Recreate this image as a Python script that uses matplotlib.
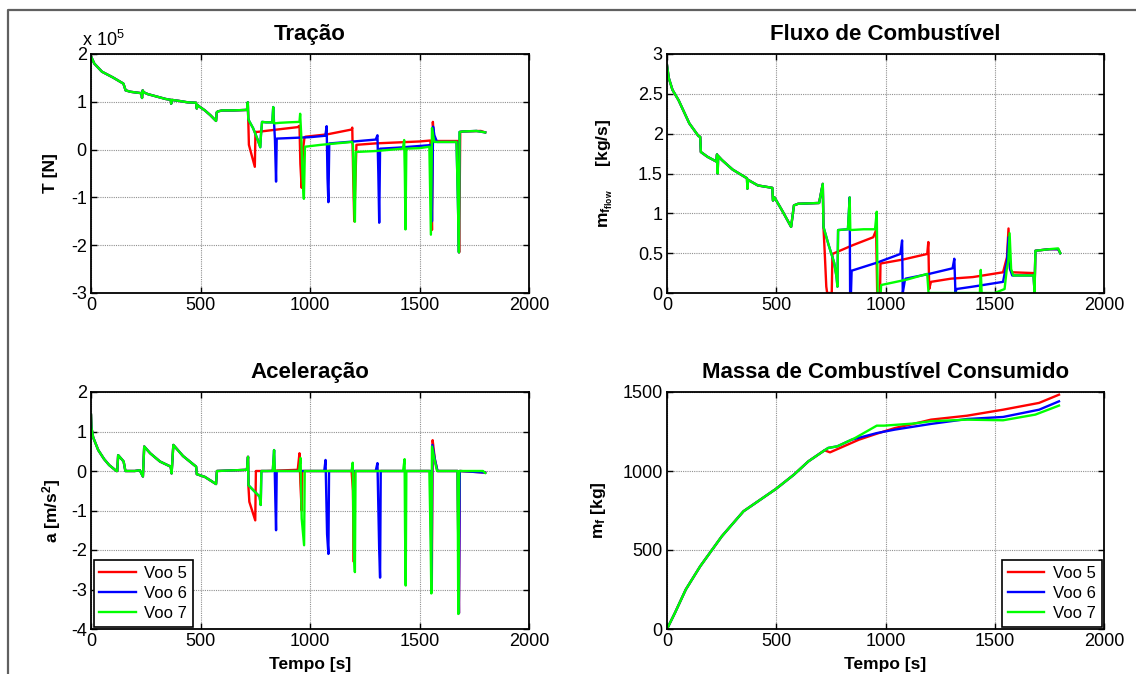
import matplotlib
matplotlib.use("Agg")
import matplotlib.pyplot as plt
from matplotlib.lines import Line2D
from matplotlib.ticker import FormatStrFormatter

# ---- data (time [s], value) ----
series_names = ["Voo 5", "Voo 6", "Voo 7"]
series_colors = ["#ff0000", "#0000ff", "#00ff00"]

# Thrust, in units of 1e5 N -- common part shared by all flights
thrust_common = [(0, 1.95), (15, 1.8), (50, 1.63), (100, 1.51), (148, 1.38), (158, 1.24),
                 (180, 1.21), (230, 1.18), (233, 1.08), (236, 1.24), (240, 1.2), (260, 1.16),
                 (300, 1.11), (340, 1.06), (364, 1.04), (366, 0.96), (369, 1.04), (400, 1.02),
                 (440, 0.99), (480, 0.98), (483, 0.86), (487, 0.93), (495, 0.9), (520, 0.82),
                 (545, 0.72), (571, 0.6), (574, 0.78), (580, 0.8), (600, 0.82), (650, 0.82),
                 (712, 0.83), (716, 0.99)]
thrust_v5 = [(718, 0.65), (721, 0.1), (748, -0.36), (751, 0.37), (760, 0.37), (850, 0.42),
             (944, 0.47), (952, 0.5), (956, -0.3), (962, -0.8), (968, 0.0), (975, 0.26),
             (980, 0.27), (1080, 0.32), (1190, 0.42), (1193, 0.46), (1197, -0.5), (1202, -1.5),
             (1212, 0.1), (1300, 0.13), (1400, 0.15), (1500, 0.17), (1550, 0.19), (1557, -1.68),
             (1561, 0.58), (1565, 0.3), (1570, 0.2), (1578, 0.18), (1600, 0.18), (1660, 0.18),
             (1676, 0.18), (1681, -2.15), (1686, 0.37), (1700, 0.38), (1780, 0.39), (1800, 0.36)]
thrust_v6 = [(718, 0.65), (722, 0.6), (740, 0.45), (760, 0.22), (773, 0.05), (776, 0.3),
             (781, 0.58), (800, 0.57), (828, 0.57), (832, 0.89), (836, 0.55), (840, 0.2),
             (845, -0.67), (848, 0.23), (900, 0.24), (1000, 0.26), (1070, 0.29), (1076, 0.49),
             (1080, -0.6), (1084, -1.1), (1088, 0.13), (1092, 0.13), (1200, 0.17), (1300, 0.21),
             (1308, 0.3), (1312, -0.5), (1316, -1.53), (1320, 0.02), (1324, 0.02), (1400, 0.04),
             (1540, 0.09), (1552, 0.1), (1557, -1.5), (1562, 0.48), (1568, 0.3), (1580, 0.16),
             (1620, 0.16), (1669, 0.16), (1675, -1.0), (1680, -2.15), (1683, 0.37), (1700, 0.38),
             (1760, 0.39), (1800, 0.36)]
thrust_v7 = [(718, 0.65), (722, 0.6), (740, 0.45), (760, 0.22), (773, 0.05), (776, 0.3),
             (781, 0.58), (800, 0.57), (828, 0.57), (832, 0.89), (835, 0.55), (839, 0.55),
             (860, 0.56), (900, 0.57), (952, 0.58), (955, 0.75), (960, 0.3), (966, -0.6),
             (972, -1.03), (977, 0.06), (1050, 0.1), (1120, 0.13), (1192, 0.16), (1196, 0.1),
             (1201, -1.0), (1205, -1.51), (1209, -0.05), (1300, -0.03), (1424, 0.02), (1430, 0.2),
             (1433, -0.5), (1436, -1.67), (1440, 0.02), (1500, 0.03), (1545, 0.06), (1552, -1.78),
             (1557, 0.45), (1562, 0.3), (1568, 0.16), (1580, 0.16), (1620, 0.16), (1669, 0.16),
             (1675, -1.0), (1680, -2.15), (1683, 0.37), (1700, 0.38), (1760, 0.39), (1800, 0.36)]

# Fuel flow [kg/s]
flow_common = [(0, 2.86), (8, 2.7), (25, 2.55), (53, 2.42), (102, 2.13), (144, 1.97), (152, 1.96),
               (155, 1.77), (185, 1.71), (226, 1.65), (229, 1.74), (232, 1.5), (234, 1.72),
               (251, 1.67), (300, 1.55), (366, 1.44), (368, 1.31), (371, 1.42), (416, 1.35),
               (482, 1.32), (485, 1.16), (492, 1.2), (530, 1.02), (568, 0.83), (581, 1.1),
               (600, 1.12), (696, 1.13), (713, 1.37)]
flow_v5 = [(716, 0.83), (722, 0.5), (729, 0.08), (733, 0.0), (754, 0.0), (757, 0.49), (850, 0.6),
           (944, 0.7), (957, 0.79), (962, 0.0), (975, 0.0), (977, 0.37), (1080, 0.42), (1191, 0.49),
           (1196, 0.64), (1200, 0.05), (1208, 0.14), (1300, 0.18), (1400, 0.2), (1538, 0.26),
           (1556, 0.45), (1563, 0.81), (1570, 0.3), (1580, 0.26), (1678, 0.25), (1682, 0.0),
           (1686, 0.53), (1750, 0.55), (1790, 0.55), (1800, 0.5)]
flow_v6 = [(716, 0.83), (740, 0.6), (765, 0.38), (776, 0.2), (780, 0.08), (783, 0.79), (828, 0.8),
           (836, 1.2), (838, 0.0), (842, 0.0), (845, 0.28), (960, 0.38), (1068, 0.49), (1076, 0.66),
           (1079, 0.0), (1088, 0.15), (1092, 0.18), (1200, 0.24), (1307, 0.31), (1315, 0.43),
           (1320, 0.0), (1325, 0.05), (1400, 0.08), (1538, 0.14), (1556, 0.4), (1563, 0.7),
           (1570, 0.3), (1580, 0.22), (1678, 0.22), (1682, 0.0), (1686, 0.53), (1750, 0.55),
           (1790, 0.55), (1800, 0.5)]
flow_v7 = [(716, 0.83), (740, 0.6), (765, 0.38), (776, 0.2), (780, 0.08), (783, 0.79), (828, 0.8),
           (836, 1.2), (839, 0.79), (900, 0.8), (952, 0.8), (960, 1.02), (964, 0.0), (978, 0.0),
           (980, 0.1), (1100, 0.17), (1191, 0.24), (1197, 0.0), (1432, 0.0), (1436, 0.29),
           (1440, 0.0), (1500, 0.0), (1545, 0.05), (1555, 0.3), (1562, 0.4), (1568, 0.75),
           (1575, 0.3), (1585, 0.22), (1678, 0.22), (1682, 0.0), (1686, 0.53), (1750, 0.55),
           (1790, 0.56), (1800, 0.5)]

# Acceleration [m/s^2]
accel_common = [(0, 1.42), (2, 1.1), (10, 0.85), (33, 0.53), (60, 0.3), (83, 0.15), (116, 0.0),
                (120, 0.0), (124, 0.4), (140, 0.3), (149, 0.24), (157, 0.0), (200, 0.0),
                (223, 0.02), (237, -0.14), (243, 0.62), (270, 0.45), (315, 0.24), (364, 0.11),
                (368, -0.06), (376, 0.66), (420, 0.38), (480, 0.11), (483, -0.08), (520, -0.15),
                (571, -0.33), (575, 0.0), (712, 0.03), (717, 0.36)]
accel_v5 = [(719, -0.4), (723, -0.78), (750, -1.25), (753, 0.0), (800, 0.0), (944, 0.03),
            (952, 0.45), (956, -0.3), (962, -1.0), (965, 0.0), (1190, 0.0), (1196, -0.5),
            (1200, -2.3), (1204, 0.0), (1550, 0.0), (1556, -3.07), (1560, 0.78), (1570, 0.3),
            (1582, 0.0), (1674, 0.0), (1680, -3.6), (1684, 0.0), (1800, -0.04)]
accel_v6 = [(719, -0.36), (770, -0.65), (775, -0.86), (778, 0.0), (830, 0.0), (836, 0.53),
            (839, 0.0), (842, -0.8), (845, -1.5), (848, 0.0), (1065, 0.0), (1071, 0.28),
            (1078, -1.6), (1084, -2.1), (1087, 0.0), (1300, 0.0), (1308, 0.2), (1316, -2.0),
            (1320, -2.7), (1323, 0.0), (1550, 0.0), (1555, -3.0), (1559, 0.66), (1570, 0.3),
            (1582, 0.0), (1674, 0.0), (1680, -3.6), (1684, 0.0), (1800, -0.04)]
accel_v7 = [(719, -0.36), (770, -0.65), (775, -0.86), (778, 0.0), (830, 0.0), (836, 0.53),
            (839, 0.0), (950, 0.0), (957, 0.33), (962, -1.2), (973, -1.88), (976, 0.0),
            (1190, 0.0), (1195, 0.21), (1200, -2.0), (1205, -2.56), (1208, 0.0), (1425, 0.0),
            (1432, 0.3), (1434, -1.5), (1437, -2.9), (1440, 0.0), (1545, 0.0), (1550, -1.5),
            (1554, -3.1), (1557, 0.62), (1568, 0.3), (1580, 0.0), (1674, 0.0), (1677, -3.62),
            (1681, 0.0), (1790, 0.0), (1800, -0.05)]

# Consumed fuel mass [kg]
mass_common = [(0, 0), (36, 101), (86, 250), (152, 397), (251, 587), (350, 745), (498, 886),
               (581, 977), (647, 1061), (721, 1131)]
mass_v5 = [(746, 1118), (878, 1198), (960, 1236), (1043, 1272), (1158, 1308), (1208, 1325),
           (1373, 1350), (1538, 1388), (1703, 1431), (1794, 1483)]
mass_v6 = [(738, 1146), (779, 1156), (845, 1198), (960, 1240), (1043, 1262), (1208, 1298),
           (1373, 1329), (1538, 1342), (1703, 1388), (1794, 1441)]
mass_v7 = [(738, 1146), (779, 1156), (861, 1209), (960, 1287), (993, 1287), (1125, 1300),
           (1208, 1315), (1373, 1325), (1538, 1321), (1686, 1357), (1794, 1414)]

plt.rcParams['font.family'] = ['Liberation Sans', 'DejaVu Sans']
plt.rcParams['mathtext.fontset'] = 'custom'
plt.rcParams['mathtext.rm'] = 'Liberation Sans'
plt.rcParams['mathtext.bf'] = 'Liberation Sans:bold'
plt.rcParams['mathtext.it'] = 'Liberation Sans:italic'
plt.rcParams['axes.unicode_minus'] = False

fig = plt.figure(figsize=(11.36, 6.74), dpi=100)
W, H = 1136., 674.

def axes_px(left, top, right, bottom):
    return fig.add_axes([left / W, 1 - bottom / H, (right - left) / W, (bottom - top) / H])

def style(ax, ylim, yticks):
    ax.set_xlim(0, 2000)
    ax.set_ylim(*ylim)
    ax.set_xticks([0, 500, 1000, 1500, 2000])
    ax.set_yticks(yticks)
    ax.yaxis.set_major_formatter(FormatStrFormatter('%g'))
    ax.tick_params(direction='in', length=4, width=1, top=True, right=True,
                   labelsize=13, pad=3, colors='black')
    ax.grid(True, color='#909090', linestyle=(0, (1, 1)), linewidth=0.8)
    for sp in ax.spines.values():
        sp.set_linewidth(1.3)

def draw(ax, common, tails):
    for tail, name, col in zip(tails, series_names, series_colors):
        pts = common + tail
        t = [p[0] for p in pts]
        v = [p[1] for p in pts]
        ax.plot(t, v, color=col, lw=1.7, label=name)

title_kw = dict(fontsize=16, fontweight='bold', pad=10)
lab_kw = dict(fontsize=12.5, fontweight='bold')

ax1 = axes_px(91, 54, 529, 293)
draw(ax1, thrust_common, [thrust_v5, thrust_v6, thrust_v7])
style(ax1, (-3, 2), [-3, -2, -1, 0, 1, 2])
ax1.set_title('Tração', **title_kw)
ax1.set_ylabel('T [N]', **lab_kw)
ax1.yaxis.set_label_coords(-0.075, 0.5)
ax1.text(-0.02, 1.015, r'x 10$^{5}$', transform=ax1.transAxes, fontsize=13, ha='left', va='bottom')

ax2 = axes_px(667, 54, 1104, 293)
draw(ax2, flow_common, [flow_v5, flow_v6, flow_v7])
style(ax2, (0, 3), [0, 0.5, 1, 1.5, 2, 2.5, 3])
ax2.set_title('Fluxo de Combustível', **title_kw)
ax2.set_ylabel(r'$\mathbf{m_{f_{flow}}}$     [kg/s]', **lab_kw)
ax2.yaxis.set_label_coords(-0.12, 0.5)

ax3 = axes_px(91, 392, 529, 629)
draw(ax3, accel_common, [accel_v5, accel_v6, accel_v7])
style(ax3, (-4, 2), [-4, -3, -2, -1, 0, 1, 2])
ax3.set_title('Aceleração', **title_kw)
ax3.set_ylabel(r'a [m/s$\mathbf{^{2}}$]', **lab_kw)
ax3.yaxis.set_label_coords(-0.064, 0.5)
ax3.set_xlabel('Tempo [s]', **lab_kw)
ax3.xaxis.set_label_coords(0.5, -0.118)

ax4 = axes_px(667, 392, 1104, 629)
draw(ax4, mass_common, [mass_v5, mass_v6, mass_v7])
style(ax4, (0, 1500), [0, 500, 1000, 1500])
ax4.set_title('Massa de Combustível Consumido', **title_kw)
ax4.set_ylabel(r'$\mathbf{m_{f}}$ [kg]', **lab_kw)
ax4.yaxis.set_label_coords(-0.135, 0.5)
ax4.set_xlabel('Tempo [s]', **lab_kw)
ax4.xaxis.set_label_coords(0.5, -0.118)

for ax, loc in [(ax3, 'lower left'), (ax4, 'lower right')]:
    leg = ax.legend(loc=loc, fontsize=12, fancybox=False, framealpha=1, edgecolor='black',
                    handlelength=2.2, borderaxespad=0.15, labelspacing=0.3, handletextpad=0.5,
                    borderpad=0.35)
    leg.get_frame().set_linewidth(1.2)

# outer frame of the exported figure
fig.add_artist(Line2D([7.5 / W, 7.5 / W, 1.0], [0.0, 1 - 9.5 / H, 1 - 9.5 / H],
                      transform=fig.transFigure, color='#606060', lw=1.6))

fig.savefig('out.png', dpi=100)
